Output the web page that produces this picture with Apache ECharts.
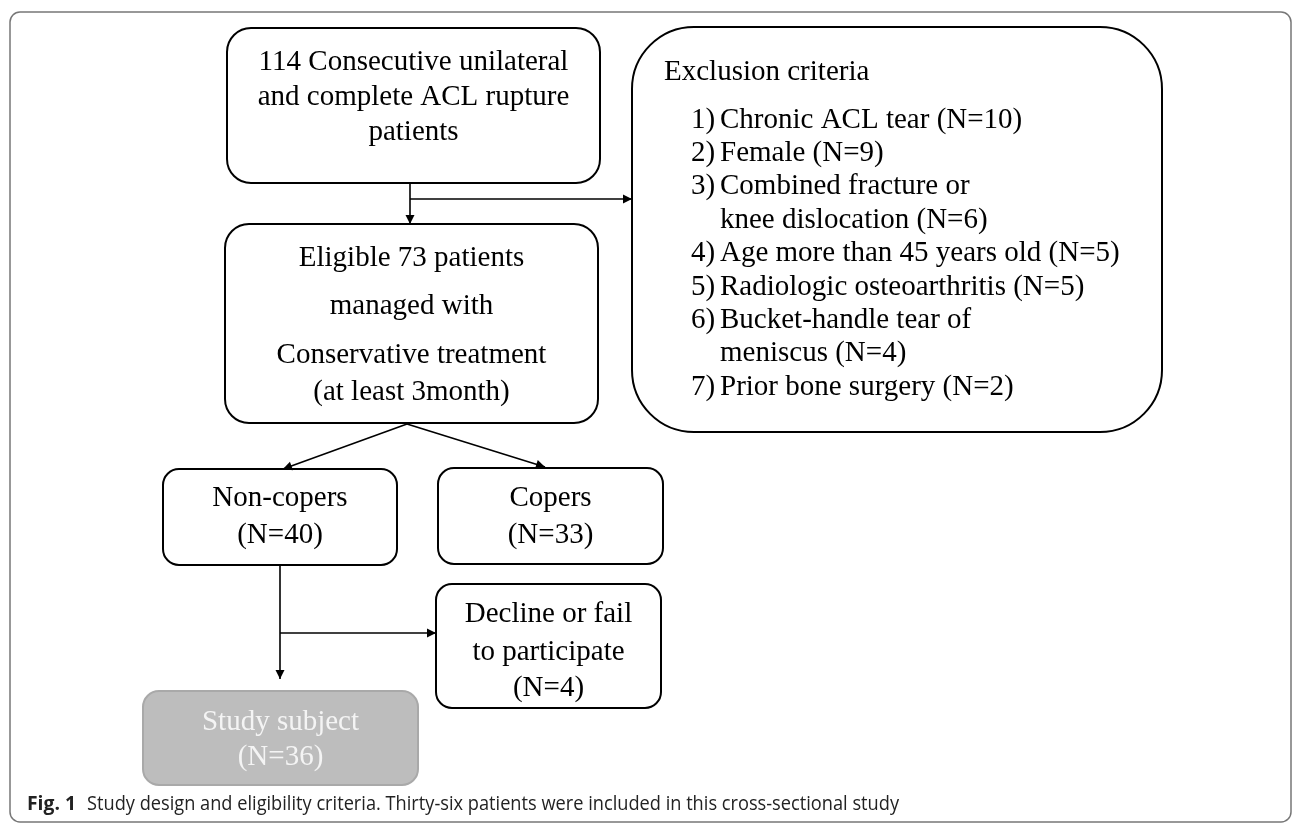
<!DOCTYPE html>
<html>
<head>
<meta charset="utf-8">
<script src="https://cdn.jsdelivr.net/npm/echarts@6/dist/echarts.min.js"></script>
<style>
  html, body { margin: 0; padding: 0; background: #fff; }
  #chart { width: 1293px; height: 824px; }
</style>
</head>
<body>
<div id="chart"></div>
<script>
// box texts
const topLines = ['114 Consecutive unilateral', 'and complete ACL rupture', 'patients']
const eligibleLines = ['Eligible 73 patients', 'managed with', 'Conservative treatment', '(at least 3month)']
const exclusionTitle = 'Exclusion criteria'
const exclusionItems = [
  ['Chronic ACL tear (N=10)'],
  ['Female (N=9)'],
  ['Combined fracture or', 'knee dislocation (N=6)'],
  ['Age more than 45 years old (N=5)'],
  ['Radiologic osteoarthritis (N=5)'],
  ['Bucket-handle tear of', 'meniscus (N=4)'],
  ['Prior bone surgery (N=2)']
]
const groupNames = ['Non-copers', 'Copers']
const groupCounts = [40, 33]
const declineLines = ['Decline or fail', 'to participate']
const declineCount = 4
const studyName = 'Study subject'
const studyCount = 36
const captionLabel = 'Fig. 1'
const captionText = 'Study design and eligibility criteria. Thirty-six patients were included in this cross-sectional study'

// layout (pixels)
const layout = {
  frame: { x: 10, y: 12, w: 1281, h: 810, r: 10 },
  top: { x: 227, y: 28, w: 373, h: 155, r: 24, ys: [62, 97, 132] },
  eligible: { x: 225, y: 224, w: 373, h: 199, r: 24, ys: [258, 306, 355, 392] },
  exclusion: { x: 632, y: 27, w: 530, h: 405, r: 62, titleX: 664, titleY: 72, numX: 691, textX: 720, y0: 120, lh: 33.4 },
  nonCopers: { x: 163, y: 469, w: 234, h: 96, r: 16, ys: [498, 535] },
  copers: { x: 438, y: 468, w: 225, h: 96, r: 16, ys: [498, 535] },
  decline: { x: 436, y: 584, w: 225, h: 124, r: 16, ys: [614, 652, 688] },
  study: { x: 143, y: 691, w: 275, h: 94, r: 16, ys: [722, 757] }
}

const serif = '"Liberation Serif", "Times New Roman", serif'
const fontSize = 29
const elements = []

const box = (b, fill, stroke) => {
  elements.push({
    type: 'rect',
    shape: { x: b.x, y: b.y, width: b.w, height: b.h, r: b.r },
    style: { fill: fill || '#fff', stroke: stroke || '#000', lineWidth: 2 }
  })
}

const centerText = (b, lines, color) => {
  lines.forEach((t, i) => {
    elements.push({
      type: 'text',
      x: b.x + b.w / 2,
      y: b.ys[i],
      style: { text: t, fontFamily: serif, fontSize: fontSize, fill: color || '#000', align: 'center', verticalAlign: 'middle' }
    })
  })
}

const arrow = (x1, y1, x2, y2) => {
  elements.push({
    type: 'line',
    shape: { x1: x1, y1: y1, x2: x2, y2: y2 },
    style: { stroke: '#000', lineWidth: 1.6 }
  })
  const len = Math.hypot(x2 - x1, y2 - y1)
  const ux = (x2 - x1) / len, uy = (y2 - y1) / len
  const bx = x2 - ux * 9, by = y2 - uy * 9
  elements.push({
    type: 'polygon',
    shape: { points: [[x2, y2], [bx - uy * 4.5, by + ux * 4.5], [bx + uy * 4.5, by - ux * 4.5]] },
    style: { fill: '#000' }
  })
}

const line = (x1, y1, x2, y2) => {
  elements.push({
    type: 'line',
    shape: { x1: x1, y1: y1, x2: x2, y2: y2 },
    style: { stroke: '#000', lineWidth: 1.6 }
  })
}

// outer frame
const f = layout.frame
elements.push({
  type: 'rect',
  shape: { x: f.x, y: f.y, width: f.w, height: f.h, r: f.r },
  style: { fill: 'none', stroke: '#777', lineWidth: 1.5 }
})

// boxes
box(layout.top); centerText(layout.top, topLines)
box(layout.eligible); centerText(layout.eligible, eligibleLines)
box(layout.nonCopers); centerText(layout.nonCopers, [groupNames[0], '(N=' + groupCounts[0] + ')'])
box(layout.copers); centerText(layout.copers, [groupNames[1], '(N=' + groupCounts[1] + ')'])
box(layout.decline); centerText(layout.decline, declineLines.concat(['(N=' + declineCount + ')']))
box(layout.study, '#bdbdbd', '#a9a9a9'); centerText(layout.study, [studyName, '(N=' + studyCount + ')'], '#f4f4f4')

// exclusion box
const ex = layout.exclusion
box(ex)
elements.push({
  type: 'text', x: ex.titleX, y: ex.titleY,
  style: { text: exclusionTitle, fontFamily: serif, fontSize: fontSize, fill: '#000', align: 'left', verticalAlign: 'middle' }
})
let row = 0
exclusionItems.forEach((item, i) => {
  elements.push({
    type: 'text', x: ex.numX, y: ex.y0 + row * ex.lh,
    style: { text: (i + 1) + ')', fontFamily: serif, fontSize: fontSize, fill: '#000', align: 'left', verticalAlign: 'middle' }
  })
  item.forEach((t) => {
    elements.push({
      type: 'text', x: ex.textX, y: ex.y0 + row * ex.lh,
      style: { text: t, fontFamily: serif, fontSize: fontSize, fill: '#000', align: 'left', verticalAlign: 'middle' }
    })
    row++
  })
})

// connectors
const t = layout.top, e = layout.eligible
const midX = 410
arrow(midX, t.y + t.h, midX, e.y)
arrow(midX, 199, ex.x, 199)
const forkX = 407, forkY = e.y + e.h + 1
arrow(forkX, forkY, 283, layout.nonCopers.y)
arrow(forkX, forkY, 545, layout.copers.y - 1)
const nc = layout.nonCopers
arrow(280, nc.y + nc.h, 280, layout.study.y - 12)
arrow(280, 633, layout.decline.x, 633)

// caption, squeezed to the width of the original condensed face
const ctx = document.createElement('canvas').getContext('2d')
const capFont = '"Open Sans", sans-serif'
ctx.font = 'bold 20px ' + capFont
const labelScale = 49 / ctx.measureText(captionLabel).width
ctx.font = '20px ' + capFont
const textScale = 812 / ctx.measureText(captionText).width
elements.push({
  type: 'text', x: 27, y: 804, scaleX: labelScale,
  style: { text: captionLabel, fontFamily: capFont, fontWeight: 'bold', fontSize: 20, fill: '#222', align: 'left', verticalAlign: 'middle' }
})
elements.push({
  type: 'text', x: 87, y: 804, scaleX: textScale,
  style: { text: captionText, fontFamily: capFont, fontSize: 20, fill: '#222', align: 'left', verticalAlign: 'middle' }
})

const chart = echarts.init(document.getElementById('chart'))
chart.setOption({
  backgroundColor: '#fff',
  animation: false,
  graphic: { elements: elements }
})
</script>
</body>
</html>
